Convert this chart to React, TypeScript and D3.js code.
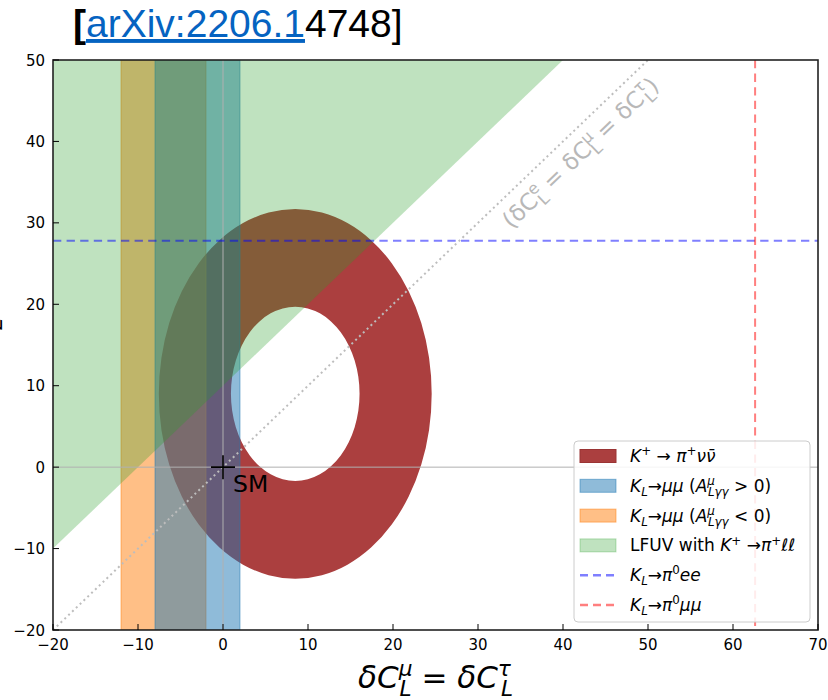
import React from "react";
import * as d3 from "d3";

// ---------- data ----------
const X_DOMAIN = [-20, 70];
const Y_DOMAIN = [-20, 50];
const xTicks = [-20, -10, 0, 10, 20, 30, 40, 50, 60, 70];
const yTicks = [-20, -10, 0, 10, 20, 30, 40, 50];

// K+ -> pi+ nu nubar annulus: centre and radii along delta C^e (x radius = r / sqrt 2)
const annulusCenter = [8.5, 9.0];
const annulusRadii = [10.7, 22.7];
// K_L -> mu mu bands
const kLmumuPos = [-8, 2]; // A > 0
const kLmumuNeg = [-12, -2]; // A < 0
// LFUV region: deltaC^e >= deltaC^mu + offset
const lfuvOffset = 10;
// dashed bounds
const kLpi0ee = 27.8; // horizontal
const kLpi0mumu = 62.6; // vertical
const smPoint = [0, 0];
const diagLabelAt = 40.4;

type Part = { s: string; it?: boolean; sup?: boolean; sub?: boolean; dx?: number };

const legendItems: { kind: string; color: string; label: Part[] }[] = [
  {
    kind: "patch-red",
    color: "#ab3f3f",
    label: [
      { s: "K", it: true },
      { s: "+", sup: true },
      { s: " → " },
      { s: "π", it: true },
      { s: "+", sup: true },
      { s: "ν", it: true },
      { s: "ν\u0304", it: true },
    ],
  },
  {
    kind: "patch",
    color: "#1f77b4",
    label: [
      { s: "K", it: true },
      { s: "L", it: true, sub: true },
      { s: "→" },
      { s: "μμ", it: true },
      { s: " (" },
      { s: "A", it: true },
      { s: "μ", it: true, sup: true },
      { s: "Lγγ", it: true, sub: true, dx: -7 },
      { s: " > 0)" },
    ],
  },
  {
    kind: "patch",
    color: "#ff7f0e",
    label: [
      { s: "K", it: true },
      { s: "L", it: true, sub: true },
      { s: "→" },
      { s: "μμ", it: true },
      { s: " (" },
      { s: "A", it: true },
      { s: "μ", it: true, sup: true },
      { s: "Lγγ", it: true, sub: true, dx: -7 },
      { s: " < 0)" },
    ],
  },
  {
    kind: "patch-green",
    color: "#2ca02c",
    label: [
      { s: "LFUV with " },
      { s: "K", it: true },
      { s: "+", sup: true },
      { s: " →" },
      { s: "π", it: true },
      { s: "+", sup: true },
      { s: "ℓℓ", it: true },
    ],
  },
  {
    kind: "line",
    color: "#0000ff",
    label: [
      { s: "K", it: true },
      { s: "L", it: true, sub: true },
      { s: "→" },
      { s: "π", it: true },
      { s: "0", sup: true },
      { s: "ee", it: true },
    ],
  },
  {
    kind: "line",
    color: "#ff0000",
    label: [
      { s: "K", it: true },
      { s: "L", it: true, sub: true },
      { s: "→" },
      { s: "π", it: true },
      { s: "0", sup: true },
      { s: "μμ", it: true },
    ],
  },
];

const xLabel: Part[] = [
  { s: "δC", it: true },
  { s: "μ", it: true, sup: true },
  { s: "L", it: true, sub: true, dx: -13 },
  { s: " = " },
  { s: "δC", it: true },
  { s: "τ", it: true, sup: true },
  { s: "L", it: true, sub: true, dx: -10 },
];

const diagLabel: Part[] = [
  { s: "(δC" },
  { s: "e", sup: true },
  { s: "L", sub: true, dx: -9 },
  { s: " = δC" },
  { s: "μ", sup: true },
  { s: "L", sub: true, dx: -10 },
  { s: " = δC" },
  { s: "τ", sup: true },
  { s: "L", sub: true, dx: -8 },
  { s: ")" },
];

const FONT = "DejaVu Sans";

function mathSpans(parts: Part[], size: number, firstDy = 0) {
  let cur = 0;
  return parts.map((p, i) => {
    const target = p.sup ? -size * 0.4 : p.sub ? size * 0.25 : 0;
    let dy = target - cur;
    if (i === 0) dy += firstDy;
    cur = target;
    return (
      <tspan
        key={i}
        dy={dy}
        dx={p.dx}
        fontStyle={p.it ? "italic" : "normal"}
        fontSize={p.sup || p.sub ? size * 0.7 : size}
      >
        {p.s}
      </tspan>
    );
  });
}

export default function App() {
  const W = 828;
  const H = 700;
  const left = 53,
    right = 818,
    top = 60,
    bottom = 630;
  const x = d3.scaleLinear().domain(X_DOMAIN).range([left, right]);
  const y = d3.scaleLinear().domain(Y_DOMAIN).range([bottom, top]);

  // annulus path
  const ellipsePath = (r: number) => {
    const rx = Math.abs(x(annulusCenter[0] + r / Math.SQRT2) - x(annulusCenter[0]));
    const ry = Math.abs(y(annulusCenter[1] + r) - y(annulusCenter[1]));
    const cx = x(annulusCenter[0]);
    const cy = y(annulusCenter[1]);
    return `M${cx - rx},${cy} a${rx},${ry} 0 1,0 ${2 * rx},0 a${rx},${ry} 0 1,0 ${-2 * rx},0 Z`;
  };
  const annulus = ellipsePath(annulusRadii[1]) + " " + ellipsePath(annulusRadii[0]);

  // LFUV polygon
  const lfuvPts: [number, number][] = [
    [X_DOMAIN[0], X_DOMAIN[0] + lfuvOffset],
    [Y_DOMAIN[1] - lfuvOffset, Y_DOMAIN[1]],
    [X_DOMAIN[0], Y_DOMAIN[1]],
  ];
  const lfuvPath = d3.line()(lfuvPts.map(([a, b]) => [x(a), y(b)]))! + "Z";

  const band = (b: number[], color: string) => (
    <rect
      x={x(b[0])}
      y={y(Y_DOMAIN[1])}
      width={x(b[1]) - x(b[0])}
      height={y(Y_DOMAIN[0]) - y(Y_DOMAIN[1])}
      fill={color}
      fillOpacity={0.5}
      stroke={color}
      strokeOpacity={0.5}
      strokeWidth={1}
    />
  );

  // diagonal
  const angle = (Math.atan2(y(1) - y(0), x(1) - x(0)) * 180) / Math.PI;

  // legend
  const lgX = 574,
    lgY = 441,
    lgW = 236,
    lgH = 181;
  const rowH = 29.8;
  const row0 = 456;
  const lgFont = 17;

  return (
    <svg
      width={W}
      height={H}
      style={{ position: "absolute", left: 0, top: 0, background: "#fff" }}
      fontFamily={FONT}
    >
      <defs>
        <clipPath id="plotclip">
          <rect x={left} y={top} width={right - left} height={bottom - top} />
        </clipPath>
      </defs>

      {/* title */}
      <text x={73} y={37} fontSize={39} fontFamily="Liberation Sans" fill="#000">
        <tspan fontWeight="bold">[</tspan>
        <tspan fill="#0563c1" textDecoration="underline">
          arXiv:2206.1
        </tspan>
        <tspan>4748]</tspan>
      </text>

      <g clipPath="url(#plotclip)">
        <path d={annulus} fill="#ab3f3f" fillRule="evenodd" />
        {band(kLmumuNeg, "#ff7f0e")}
        {band(kLmumuPos, "#1f77b4")}
        <path d={lfuvPath} fill="#2ca02c" fillOpacity={0.3} />
        {/* zero lines */}
        <line x1={left} x2={right} y1={y(0)} y2={y(0)} stroke="#b0b0b0" strokeWidth={1} />
        <line x1={x(0)} x2={x(0)} y1={top} y2={bottom} stroke="#b0b0b0" strokeWidth={1} />
        {/* diagonal */}
        <line
          x1={x(X_DOMAIN[0])}
          y1={y(X_DOMAIN[0])}
          x2={x(Y_DOMAIN[1])}
          y2={y(Y_DOMAIN[1])}
          stroke="#bdbdbd"
          strokeWidth={2}
          strokeDasharray="2,3.3"
        />
        {/* dashed constraints */}
        <line
          x1={left}
          x2={right}
          y1={y(kLpi0ee)}
          y2={y(kLpi0ee)}
          stroke="#0000ff"
          strokeOpacity={0.5}
          strokeWidth={2}
          strokeDasharray="8.3,5.3"
        />
        <line
          x1={x(kLpi0mumu)}
          x2={x(kLpi0mumu)}
          y1={top}
          y2={bottom}
          stroke="#ff0000"
          strokeOpacity={0.5}
          strokeWidth={2}
          strokeDasharray="8.3,5.3"
        />
        {/* SM */}
        <path
          d={`M${x(smPoint[0]) - 12},${y(smPoint[1])}h24M${x(smPoint[0])},${y(smPoint[1]) - 12}v24`}
          stroke="#000"
          strokeWidth={1.6}
        />
        <text x={x(smPoint[0]) + 10} y={y(smPoint[1]) + 25} fontSize={23.5} fill="#000">
          SM
        </text>
        {/* diagonal label */}
        <text
          transform={`translate(${x(diagLabelAt)},${y(diagLabelAt)}) rotate(${angle})`}
          textAnchor="middle"
          fontSize={23}
          fill="#b8b8b8"
        >
          {mathSpans(diagLabel, 23, 28)}
        </text>
      </g>

      {/* axes frame */}
      <rect
        x={left}
        y={top}
        width={right - left}
        height={bottom - top}
        fill="none"
        stroke="#222"
        strokeWidth={1.6}
      />
      {xTicks.map((t) => (
        <g key={"x" + t}>
          <line x1={x(t)} x2={x(t)} y1={bottom} y2={bottom - 6} stroke="#000" strokeWidth={1} />
          <text x={x(t)} y={650} fontSize={15} textAnchor="middle" fill="#000">
            {t < 0 ? "−" + Math.abs(t) : t}
          </text>
        </g>
      ))}
      {yTicks.map((t) => (
        <g key={"y" + t}>
          <line x1={left} x2={left + 6} y1={y(t)} y2={y(t)} stroke="#000" strokeWidth={1} />
          <text x={45} y={y(t) + 5.5} fontSize={15} textAnchor="end" fill="#000">
            {t < 0 ? "−" + Math.abs(t) : t}
          </text>
        </g>
      ))}

      {/* x label */}
      <text x={(left + right) / 2} y={688} fontSize={31} textAnchor="middle" fill="#000">
        {mathSpans(xLabel, 31)}
      </text>

      {/* y label, mostly cut off */}
      <text transform={`translate(-6,${(top + bottom) / 2}) rotate(-90)`} fontSize={30} textAnchor="middle" fill="#000">
        {mathSpans(
          [
            { s: "δC", it: true },
            { s: "e", it: true, sup: true },
            { s: "L", it: true, sub: true, dx: -11 },
          ],
          30
        )}
      </text>

      {/* legend */}
      <rect x={lgX} y={lgY} width={lgW} height={lgH} rx={4} fill="#fff" fillOpacity={0.85} stroke="#cccccc" strokeWidth={1} />
      {legendItems.map((it, i) => {
        const cy = row0 + i * rowH;
        let mark;
        if (it.kind === "line") {
          mark = (
            <line
              x1={580}
              x2={616}
              y1={cy}
              y2={cy}
              stroke={it.color}
              strokeOpacity={0.5}
              strokeWidth={2.5}
              strokeDasharray="8,5"
            />
          );
        } else if (it.kind === "patch-red") {
          mark = <rect x={580} y={cy - 6.5} width={36} height={13} fill={it.color} stroke="#9a3434" strokeWidth={1} />;
        } else {
          const op = it.kind === "patch-green" ? 0.3 : 0.5;
          mark = (
            <rect
              x={580}
              y={cy - 6.5}
              width={36}
              height={13}
              fill={it.color}
              fillOpacity={op}
              stroke={it.color}
              strokeOpacity={op}
              strokeWidth={1}
            />
          );
        }
        return (
          <g key={i}>
            {mark}
            <text x={630} y={cy + 6} fontSize={lgFont} fill="#000">
              {mathSpans(it.label, lgFont)}
            </text>
          </g>
        );
      })}
    </svg>
  );
}
